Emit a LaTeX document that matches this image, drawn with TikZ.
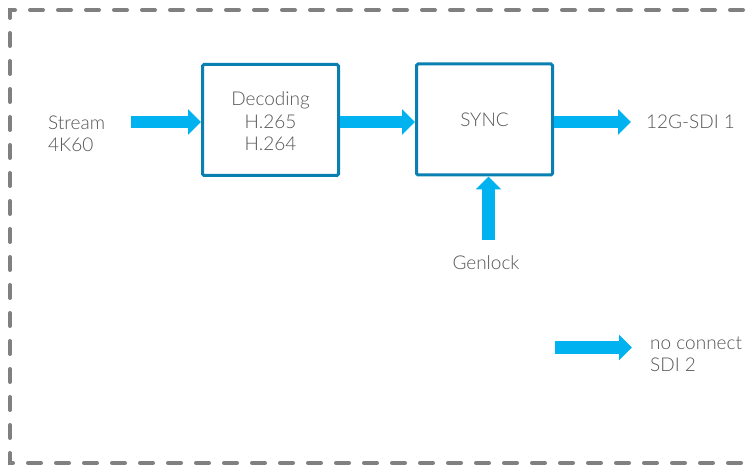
\documentclass[tikz,border=0pt]{standalone}
\usepackage{fontspec}
\setmainfont{Lato Light}
\usetikzlibrary{arrows.meta}
\definecolor{arrowcyan}{HTML}{00B2F0}
\definecolor{boxblue}{HTML}{0A7FB2}
\definecolor{txtgray}{HTML}{555555}
\definecolor{framegray}{HTML}{808080}
\begin{document}
\begin{tikzpicture}[x=1pt,y=-1pt,
  blockbox/.style={draw=boxblue,line width=3pt,rounded corners=1.5pt,minimum width=136pt,minimum height=111pt,inner sep=0pt},
  lbl/.style={text=txtgray,font=\fontsize{19}{22.5}\selectfont,inner sep=0pt},
  flowarrow/.style={draw=arrowcyan,line width=12.5pt,-{Triangle[length=13pt,width=25pt]}}]
\useasboundingbox (0,0) rectangle (752,465);
\begin{scope}
\clip (0,0) rectangle (752,465);
\draw[framegray,line width=4pt,line cap=round,dash pattern=on 13pt off 15pt,dash phase=-4pt] (775,10) -- (10,10) -- (10,463) -- (775,463);
\end{scope}
\node[blockbox] (dec) at (270.5,120) {};
\node[lbl,align=center] (dectxt) at (270.5,121.5) {Decoding\\H.265\\H.264};
\node[blockbox] (sync) at (484.5,119.5) {};
\node[lbl] (synctxt) at (484.5,120) {SYNC};
\node[lbl,align=left,anchor=west] (st) at (48,134) {Stream\\4K60};
\node[lbl,anchor=west] (out) at (646,122) {12G-SDI 1};
\node[lbl] (gen) at (486,263) {Genlock};
\node[lbl,align=left,anchor=west] (nc) at (650,354) {no connect\\SDI 2};
\coordinate (stA) at (131,122);
\coordinate (outA) at (631,122);
\coordinate (genA) at (488.5,240);
\coordinate (ncA) at (555,347.5);
\coordinate (ncB) at (632,347.5);
\draw[flowarrow] (stA) -- (dec.west |- stA);
\draw[flowarrow] (dec.east |- stA) -- (sync.west |- stA);
\draw[flowarrow] (sync.east |- stA) -- (outA);
\draw[flowarrow] (genA) -- (genA |- sync.south);
\draw[flowarrow] (ncA) -- (ncB);
\end{tikzpicture}
\end{document}
